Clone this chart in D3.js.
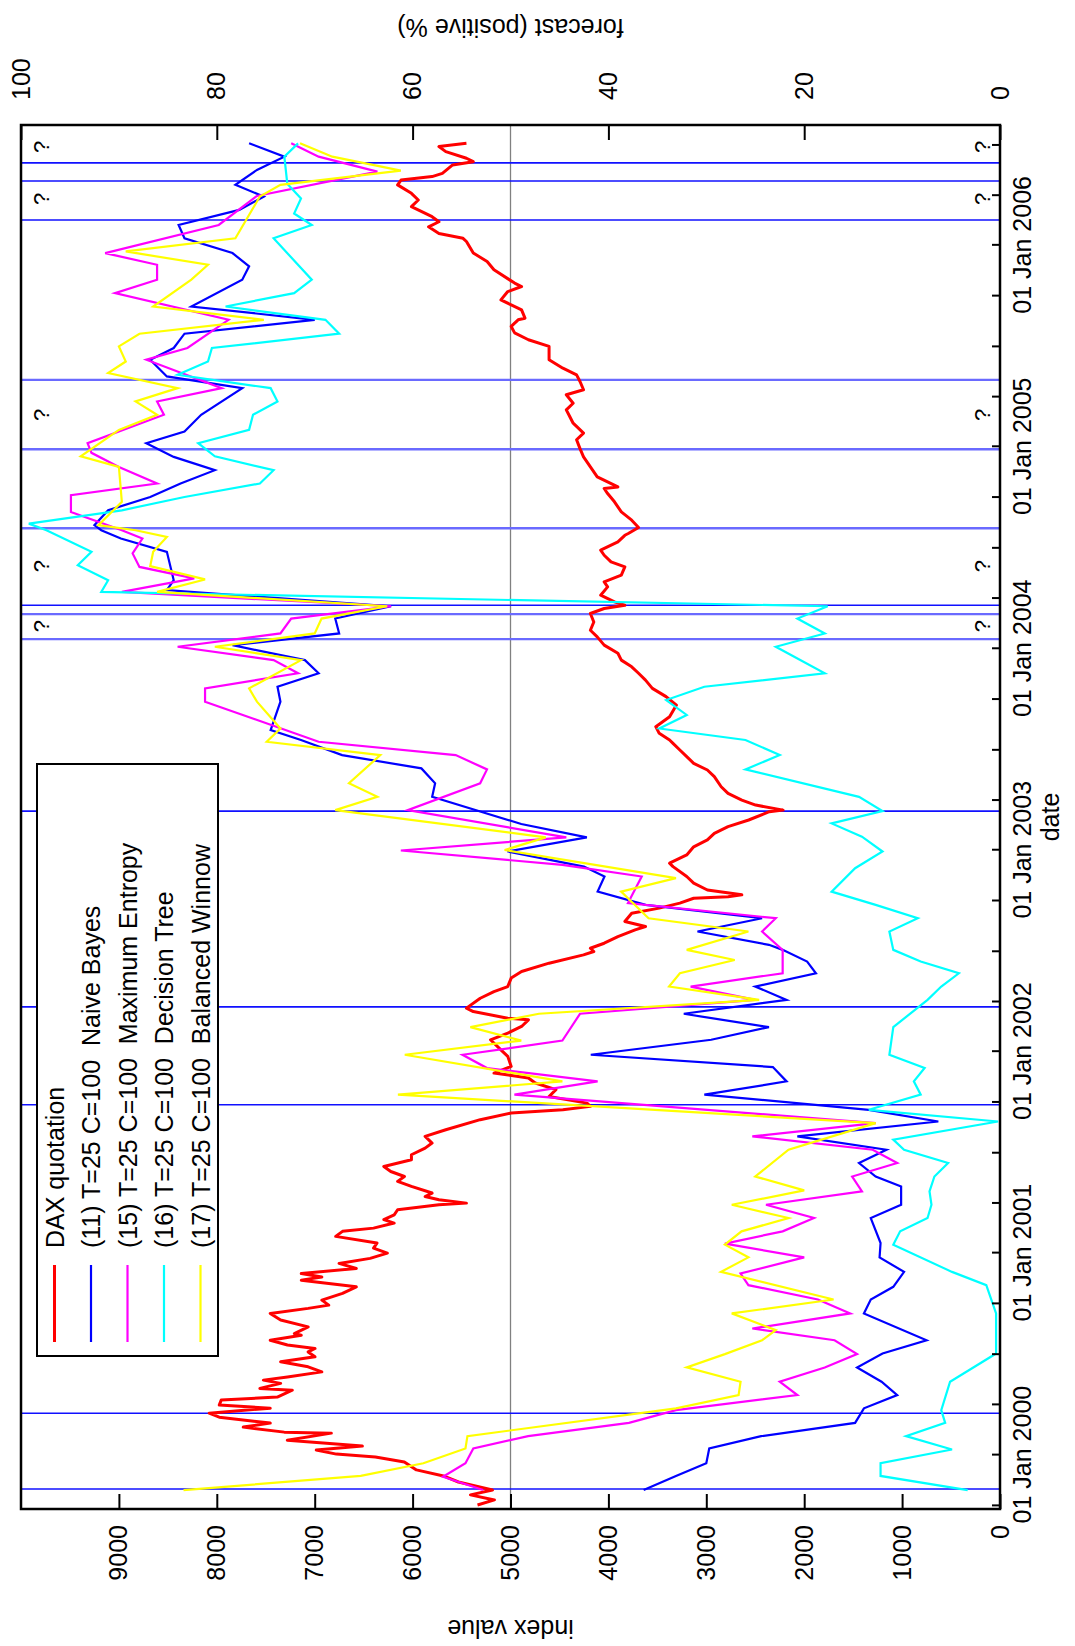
<!DOCTYPE html>
<html>
<head>
<meta charset="utf-8">
<script src="https://cdn.jsdelivr.net/npm/d3@7"></script>
<style>
body { margin: 0; background: #fff; }
text { font-family: "Liberation Sans", Arial, Helvetica, sans-serif; }
</style>
</head>
<body>
<svg id="chart" width="1075" height="1646"></svg>
<script>
// dates are decimal years
var daxYears = [1999.752,1999.777,1999.802,1999.826,1999.866,1999.896,1999.926,1999.965,1999.990,
  2000.005,2000.025,2000.045,2000.074,2000.109,2000.114,2000.139,2000.159,2000.188,2000.208,2000.233,2000.248,
  2000.273,2000.288,2000.322,2000.331,2000.356,2000.372,2000.388,2000.413,2000.438,2000.463,2000.488,2000.512,
  2000.529,2000.546,2000.570,2000.595,2000.603,2000.636,2000.670,2000.703,2000.728,2000.744,2000.769,2000.802,2000.835,
  2000.868,2000.884,2000.901,2000.926,2000.951,2000.976,2001.000,2001.025,2001.050,2001.083,2001.108,2001.124,2001.149,
  2001.166,2001.190,2001.215,2001.240,2001.248,2001.265,2001.281,2001.298,2001.331,2001.356,2001.380,2001.405,2001.430,
  2001.463,2001.488,2001.521,2001.546,2001.579,2001.612,2001.662,2001.695,2001.711,2001.728,2001.744,2001.777,2001.811,
  2001.844,2001.869,2001.893,2001.926,2001.976,2002.009,2002.059,2002.092,2002.125,2002.158,2002.166,2002.199,2002.216,
  2002.265,2002.298,2002.323,2002.365,2002.398,2002.439,2002.480,2002.497,2002.513,2002.538,2002.571,2002.604,2002.621,
  2002.646,2002.687,2002.712,2002.737,2002.761,2002.769,2002.778,2002.802,2002.836,2002.869,2002.918,2002.935,2002.976,
  2003.017,2003.051,2003.084,2003.117,2003.150,2003.191,2003.199,2003.224,2003.249,2003.282,2003.315,2003.365,2003.398,
  2003.431,2003.464,2003.497,2003.530,2003.547,2003.580,2003.613,2003.662,2003.720,2003.762,2003.803,2003.844,2003.878,
  2003.910,2003.943,2003.977,2004.018,2004.059,2004.092,2004.133,2004.175,2004.200,2004.216,2004.233,2004.266,2004.307,
  2004.332,2004.365,2004.406,2004.431,2004.464,2004.489,2004.530,2004.563,2004.572,2004.602,2004.638,2004.679,2004.729,
  2004.770,2004.795,2004.803,2004.853,2004.902,2004.952,2004.993,2005.035,2005.068,2005.117,2005.150,2005.183,2005.216,
  2005.258,2005.283,2005.324,2005.357,2005.390,2005.432,2005.498,2005.531,2005.565,2005.597,2005.630,2005.638,2005.679,
  2005.704,2005.729,2005.770,2005.795,2005.812,2005.878,2005.919,2005.961,2006.019,2006.035,2006.059,2006.092,2006.117,
  2006.142,2006.192,2006.225,2006.258,2006.300,2006.324,2006.341,2006.357,2006.399,2006.415,2006.432,2006.465,2006.490,
  2006.506];
var daxValues = [5337,5164,5409,5184,5532,5685,5961,6084,6380,
  6779,6984,6513,7280,6830,7311,7730,7454,7975,8078,7454,7975,
  7955,7382,7229,7560,7348,7524,7278,6927,7067,7348,6997,7067,
  6997,7278,7454,7137,7208,7067,7348,7454,7067,6856,6927,6716,6575,
  7137,6927,7137,6575,6751,6434,6258,6399,6364,6786,6716,6399,6188,
  6294,6188,6153,5731,5450,5731,5872,5801,6012,6153,6083,6223,6294,
  6012,6012,5872,5801,5872,5661,5309,4993,4465,4184,4219,4606,4536,
  4747,4817,5169,4993,5028,5098,5204,5028,4887,4817,5028,5380,5450,
  5309,5169,5028,4993,4887,4606,4254,4149,4184,4043,3903,3727,3621,
  3832,3762,3481,3270,3129,2778,2637,2989,3129,3200,3340,3375,3200,
  3129,2989,2918,2778,2567,2356,2215,2496,2637,2778,2848,2918,2989,
  3129,3200,3270,3340,3375,3481,3516,3375,3305,3411,3551,3621,3692,
  3762,3868,3903,4043,4114,4184,4149,4184,4043,3832,3938,4079,4008,
  4043,3868,3832,3973,4043,4079,3903,3832,3797,3692,3762,3868,3938,
  4008,4043,3903,4114,4184,4254,4290,4325,4254,4360,4395,4430,4360,
  4430,4254,4290,4325,4465,4606,4606,4817,4958,4993,4922,4852,4887,
  4993,5098,5028,4887,4958,5169,5239,5380,5450,5485,5731,5837,5731,
  5801,6012,5942,6012,6153,6118,5801,5696,5591,5380,5450,5661,5731,
  5450];

var nbYears = [1999.826,1999.896,1999.959,2000.033,2000.094,2000.160,2000.232,2000.298,2000.364,2000.435,2000.504,2000.570,
  2000.703,2000.772,2000.835,2000.909,2000.981,2001.050,2001.174,2001.240,2001.331,2001.380,2001.447,2001.513,2001.579,
  2001.653,2001.711,2001.786,2001.852,2001.923,2001.984,2002.059,2002.122,2002.188,2002.257,2002.323,2002.389,2002.447,
  2002.505,2002.530,2002.596,2002.662,2002.728,2002.794,2002.869,2002.918,2002.993,2003.064,2003.130,2003.265,2003.332,
  2003.406,2003.472,2003.547,2003.596,2003.737,2003.811,2003.878,2003.943,2004.018,2004.076,2004.150,2004.211,2004.291,
  2004.340,2004.481,2004.547,2004.588,2004.613,2004.687,2004.753,2004.820,2004.886,2004.952,2005.018,2005.076,2005.159,
  2005.291,2005.349,2005.432,2005.490,2005.561,2005.630,2005.696,2005.829,2005.895,2005.961,2006.035,2006.101,2006.176,
  2006.242,2006.300,2006.374,2006.440,2006.506];
var nbValues = [36.4,33.1,30.0,29.7,24.4,14.8,13.9,10.5,12.1,14.6,12.0,7.5,
  13.9,13.2,10.9,9.8,12.3,12.2,13.2,10.1,10.1,12.7,14.4,11.6,20.7,
  6.3,13.4,30.2,21.8,23.2,41.8,29.5,23.6,32.3,21.8,25.0,18.8,19.7,
  22.2,23.6,30.9,24.3,36.2,41.1,40.4,42.5,50.3,42.2,48.9,58.0,57.7,
  59.1,67.2,71.4,74.5,73.5,73.8,69.6,71.0,78.4,67.5,67.9,62.2,85.1,
  84.4,85.1,89.8,91.8,92.5,91.1,86.8,83.7,80.2,84.4,87.2,83.3,81.6,
  77.4,85.1,86.8,84.4,83.3,70.0,82.6,77.4,76.7,78.4,83.3,83.9,77.7,
  75.2,78.1,75.9,73.1,76.7];

var meYears = [1999.826,1999.892,1999.959,2000.033,2000.094,2000.160,2000.223,2000.298,2000.364,2000.435,2000.501,
  2000.570,2000.628,2000.703,2000.772,2000.843,2000.901,2000.981,2001.047,2001.108,2001.174,2001.240,2001.306,2001.380,
  2001.447,2001.513,2001.579,2001.645,2001.786,2001.852,2001.918,2001.984,2002.055,2002.188,2002.257,2002.323,2002.389,
  2002.505,2002.596,2002.662,2002.737,2002.869,2002.927,2002.998,2003.064,2003.199,2003.332,2003.401,2003.472,2003.538,
  2003.737,2003.803,2003.878,2003.943,2004.010,2004.076,2004.150,2004.211,2004.282,2004.349,2004.406,2004.473,2004.547,
  2004.588,2004.679,2004.762,2004.820,2004.902,2004.972,2005.018,2005.159,2005.225,2005.291,2005.432,2005.490,2005.630,
  2005.762,2005.829,2005.903,2005.961,2006.101,2006.245,2006.366,2006.440,2006.506];
var meValues = [52.8,56.9,54.6,53.8,48.2,37.9,33.1,20.7,22.5,17.9,14.6,
  16.9,25.3,15.3,18.6,25.7,26.5,20.0,28.1,22.2,19.0,23.9,14.1,15.1,
  10.5,13.0,25.3,12.7,49.6,41.1,52.4,54.9,44.7,42.9,25.0,31.6,22.2,
  22.2,24.3,22.9,38.0,36.6,44.7,61.2,44.3,60.5,53.1,52.4,55.6,69.6,
  81.2,81.2,71.7,74.2,84.0,73.5,72.4,62.2,89.7,82.3,87.9,88.6,87.6,
  89.7,94.9,94.9,86.1,90.0,92.8,93.2,85.4,86.1,79.5,87.2,83.0,78.8,
  90.4,86.1,86.1,91.4,79.8,75.9,63.6,69.6,72.4];

var dtYears = [1999.826,1999.896,1999.959,2000.028,2000.094,2000.160,2000.223,2000.364,2000.504,2000.570,2000.703,
  2000.843,2000.909,2001.042,2001.108,2001.174,2001.240,2001.306,2001.380,2001.447,2001.513,2001.563,2001.653,2001.711,
  2001.786,2001.852,2001.918,2001.984,2002.122,2002.257,2002.323,2002.389,2002.447,2002.505,2002.596,2002.662,2002.728,
  2002.794,2002.910,2002.993,2003.067,2003.133,2003.194,2003.265,2003.401,2003.472,2003.547,2003.604,2003.671,2003.745,
  2003.811,2003.878,2004.010,2004.076,2004.150,2004.211,2004.282,2004.340,2004.415,2004.481,2004.588,2004.621,2004.687,
  2004.753,2004.820,2004.886,2004.955,2005.018,2005.084,2005.159,2005.225,2005.291,2005.357,2005.423,2005.490,2005.561,
  2005.630,2005.696,2005.762,2005.829,2006.035,2006.101,2006.158,2006.233,2006.306,2006.440,2006.506];
var dtValues = [3.3,12.2,12.2,4.9,9.6,5.6,6.0,5.1,0.4,0.4,0.4,
  1.4,4.9,10.9,10.2,7.4,7.0,7.2,6.7,5.3,9.8,10.9,0.2,13.4,
  8.1,8.8,7.7,11.3,10.9,7.4,6.0,4.2,8.1,10.9,11.3,8.4,12.7,
  17.2,14.8,12.0,14.1,17.2,12.0,14.4,26.0,22.5,26.0,34.8,32.0,34.1,
  30.2,17.9,22.9,17.9,20.7,17.6,91.8,91.1,94.2,92.8,97.4,99.2,89.7,
  83.3,75.6,74.2,80.2,81.9,76.7,76.3,73.8,74.5,84.0,80.9,80.5,67.5,
  68.9,79.1,72.1,70.3,74.2,70.3,72.1,71.4,72.8,73.1,71.7];

var bwYears = [1999.826,1999.896,1999.959,2000.033,2000.094,2000.232,2000.298,2000.364,2000.435,2000.501,2000.570,
  2000.620,2000.703,2000.772,2000.909,2000.981,2001.042,2001.108,2001.174,2001.240,2001.311,2001.380,2001.513,2001.645,
  2001.786,2001.852,2001.984,2002.055,2002.122,2002.188,2002.257,2002.323,2002.389,2002.455,2002.505,2002.596,2002.662,
  2002.794,2002.861,2003.001,2003.064,2003.199,2003.265,2003.332,2003.472,2003.538,2003.604,2003.737,2003.803,2003.943,
  2004.010,2004.076,2004.150,2004.211,2004.282,2004.344,2004.410,2004.481,2004.555,2004.588,2004.613,2004.729,2004.902,
  2004.955,2005.084,2005.159,2005.225,2005.291,2005.366,2005.423,2005.498,2005.561,2005.630,2005.696,2005.829,2005.903,
  2005.969,2006.035,2006.242,2006.300,2006.371,2006.440,2006.506];
var bwValues = [83.4,65.3,58.9,54.6,54.4,33.1,26.7,26.5,32.0,28.1,24.3,
  22.9,27.4,17.0,28.5,25.7,28.1,26.4,21.6,27.4,20.0,25.0,21.6,12.7,
  61.5,44.7,60.8,48.9,54.1,47.1,24.6,33.8,32.7,27.1,32.0,25.7,35.9,
  38.7,33.1,50.6,46.4,67.9,63.6,66.5,63.3,74.9,73.5,75.9,76.7,71.4,
  80.2,70.0,69.3,62.6,86.1,81.2,86.8,86.5,85.1,88.3,92.1,89.7,90.0,
  93.9,90.0,86.1,88.3,84.0,91.1,89.3,90.0,87.9,75.2,86.5,82.6,80.9,
  89.3,78.1,75.6,73.5,61.2,68.2,71.5];

var eventYears = [1999.831, 2000.208, 2001.736, 2002.222, 2003.194, 2004.216, 2006.126, 2006.319, 2006.409];
var eventYearsLight = [2004.048, 2004.172, 2004.598, 2004.990, 2005.332];
var questionYears = [2004.112, 2004.410, 2005.159, 2006.230, 2006.488];

var indexTicks = [0, 1000, 2000, 3000, 4000, 5000, 6000, 7000, 8000, 9000];
var forecastTicks = [0, 20, 40, 60, 80, 100];

var legendLabels = ["DAX quotation",
  "(11) T=25 C=100  Naive Bayes",
  "(15) T=25 C=100  Maximum Entropy",
  "(16) T=25 C=100  Decision Tree",
  "(17) T=25 C=100  Balanced Winnow"];

function toDate(yr) {
  var y = Math.floor(yr);
  return new Date(Date.UTC(y, 0, 1) + (yr - y) * 365.25 * 864e5);
}

// the chart is drawn in landscape and turned a quarter to the left
var W = 1646;
var plotLeft = 137, plotRight = 1521, plotTop = 21, plotBottom = 1000;
var fontSize = 25;

var svg = d3.select("#chart");
var g = svg.append("g").attr("transform", "translate(0," + W + ") rotate(-90)");

var x = d3.scaleUtc().domain([toDate(1999.732), toDate(2006.597)]).range([plotLeft, plotRight]);
var yIndex = d3.scaleLinear().domain([0, 10000]).range([plotBottom, plotTop]);
var yPct = d3.scaleLinear().domain([0, 100]).range([plotBottom, plotTop]);

// 50% line
g.append("line")
  .attr("x1", plotLeft).attr("x2", plotRight)
  .attr("y1", yPct(50)).attr("y2", yPct(50))
  .attr("stroke", "#808080").attr("stroke-width", 1.3);

// event markers
g.selectAll(".ev").data(eventYears).enter().append("line")
  .attr("class", "ev")
  .attr("x1", function(d) { return x(toDate(d)); })
  .attr("x2", function(d) { return x(toDate(d)); })
  .attr("y1", plotTop).attr("y2", plotBottom)
  .attr("stroke", "#1010ff").attr("stroke-width", 1.6);

g.selectAll(".evl").data(eventYearsLight).enter().append("line")
  .attr("class", "evl")
  .attr("x1", function(d) { return x(toDate(d)); })
  .attr("x2", function(d) { return x(toDate(d)); })
  .attr("y1", plotTop).attr("y2", plotBottom)
  .attr("stroke", "#6a6aff").attr("stroke-width", 2.4);

g.selectAll(".qt").data(questionYears).enter().append("text")
  .attr("class", "qt")
  .attr("x", function(d) { return x(toDate(d)); })
  .attr("y", 49)
  .attr("text-anchor", "middle")
  .attr("font-size", 22)
  .text("?");
g.selectAll(".qb").data(questionYears).enter().append("text")
  .attr("class", "qb")
  .attr("x", function(d) { return x(toDate(d)); })
  .attr("y", 990)
  .attr("text-anchor", "middle")
  .attr("font-size", 22)
  .text("?");

function zip(a, b) { return a.map(function(v, i) { return [v, b[i]]; }); }

var lineIdx = d3.line()
  .x(function(d) { return x(toDate(d[0])); })
  .y(function(d) { return yIndex(d[1]); });
var linePct = d3.line()
  .x(function(d) { return x(toDate(d[0])); })
  .y(function(d) { return yPct(d[1]); });

g.append("path").datum(zip(daxYears, daxValues))
  .attr("d", lineIdx).attr("fill", "none")
  .attr("stroke", "#ff0000").attr("stroke-width", 3).attr("stroke-linejoin", "round");

var forecasts = [
  { years: nbYears, values: nbValues, color: "#0000ff" },
  { years: meYears, values: meValues, color: "#ff00ff" },
  { years: dtYears, values: dtValues, color: "#00ffff" },
  { years: bwYears, values: bwValues, color: "#ffff00" }
];
forecasts.forEach(function(s) {
  g.append("path").datum(zip(s.years, s.values))
    .attr("d", linePct).attr("fill", "none")
    .attr("stroke", s.color).attr("stroke-width", 2.2);
});

// axes
function styleAxis(sel) {
  sel.select(".domain").remove();
  sel.selectAll("line").attr("stroke-width", 2);
  sel.attr("font-size", fontSize).attr("font-family", null);
}

g.append("g").attr("transform", "translate(" + plotLeft + ",0)")
  .call(d3.axisLeft(yIndex).tickValues(indexTicks).tickSize(-15).tickPadding(16).tickFormat(d3.format("d")))
  .call(styleAxis);

g.append("g").attr("transform", "translate(" + plotRight + ",0)")
  .call(d3.axisRight(yPct).tickValues(forecastTicks).tickSize(-15).tickPadding(25).tickFormat(d3.format("d")))
  .call(styleAxis);

var fmtYear = d3.utcFormat("%Y");
g.append("g").attr("transform", "translate(0," + plotBottom + ")")
  .call(d3.axisBottom(x).ticks(d3.utcMonth.every(3)).tickSize(-8).tickPadding(13)
    .tickFormat(function(d) { return d.getUTCMonth() === 0 ? "01 Jan " + fmtYear(d) : ""; }))
  .call(styleAxis);

// axis titles
g.append("text")
  .attr("transform", "translate(26," + ((plotTop + plotBottom) / 2) + ") rotate(-90)")
  .attr("text-anchor", "middle").attr("font-size", fontSize)
  .text("index value");
g.append("text")
  .attr("transform", "translate(1627," + ((plotTop + plotBottom) / 2) + ") rotate(-90)")
  .attr("text-anchor", "middle").attr("font-size", fontSize)
  .text("forecast (positive %)");
g.append("text")
  .attr("x", (plotLeft + plotRight) / 2).attr("y", 1059)
  .attr("text-anchor", "middle").attr("font-size", fontSize)
  .text("date");

// legend
var legendColors = ["#ff0000", "#0000ff", "#ff00ff", "#00ffff", "#ffff00"];
var key = g.append("g");
key.append("rect")
  .attr("x", 290).attr("y", 37).attr("width", 592).attr("height", 181)
  .attr("fill", "#fff").attr("stroke", "#000").attr("stroke-width", 2);
var rows = key.selectAll(".row").data(legendLabels).enter().append("g")
  .attr("class", "row")
  .attr("transform", function(d, i) { return "translate(0," + (54.5 + i * 36.5) + ")"; });
rows.append("line")
  .attr("x1", 304).attr("x2", 381)
  .attr("stroke", function(d, i) { return legendColors[i]; })
  .attr("stroke-width", function(d, i) { return i === 0 ? 3 : 2.2; });
rows.append("text")
  .attr("x", 398).attr("dy", "0.36em")
  .attr("font-size", fontSize)
  .attr("xml:space", "preserve")
  .style("white-space", "pre")
  .text(function(d) { return d; });

// frame
g.append("rect")
  .attr("x", plotLeft).attr("y", plotTop)
  .attr("width", plotRight - plotLeft).attr("height", plotBottom - plotTop)
  .attr("fill", "none").attr("stroke", "#000").attr("stroke-width", 2.5);
</script>
</body>
</html>
